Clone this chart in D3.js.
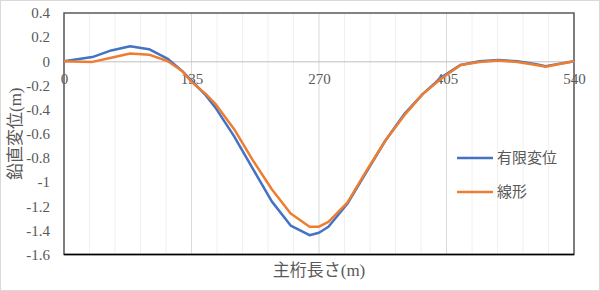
<!DOCTYPE html>
<html><head><meta charset="utf-8">
<script src="https://cdn.jsdelivr.net/npm/d3@7"></script>
<style>body{margin:0;background:#fff}svg{display:block}</style>
</head><body>
<svg id="c" width="600" height="291"></svg>
<script>
const xPos = [0,30,50,70,90,110,125,135,150,160,180,200,220,240,260,270,280,300,320,340,360,380,400,420,440,460,480,500,510,540];
const finiteDisp = [0,0.035,0.09,0.125,0.10,0.02,-0.08,-0.16,-0.28,-0.38,-0.62,-0.89,-1.16,-1.36,-1.44,-1.42,-1.37,-1.18,-0.92,-0.66,-0.44,-0.27,-0.13,-0.03,0.0,0.01,0.0,-0.025,-0.04,0];
const linearDisp = [0,-0.005,0.03,0.065,0.055,0.0,-0.08,-0.17,-0.27,-0.35,-0.56,-0.82,-1.06,-1.26,-1.37,-1.37,-1.33,-1.17,-0.91,-0.66,-0.45,-0.27,-0.14,-0.03,-0.005,0.006,-0.005,-0.03,-0.045,0];
const seriesNames = ["有限変位","線形"];
const seriesColors = ["#4472C4","#ED7D31"];
const xTicks = [0,135,270,405,540];
const yTicks = [0.4,0.2,0,-0.2,-0.4,-0.6,-0.8,-1,-1.2,-1.4,-1.6];
const xMinor = d3.range(0,541,27);
const xTitle = "主桁長さ(m)";
const yTitle = "鉛直変位(m)";

const svg = d3.select("#c");
const L=64,R=574,T=13,B=254.5;
const x = d3.scaleLinear().domain([0,540]).range([L,R]);
const y = d3.scaleLinear().domain([-1.6,0.4]).range([B,T]);

svg.append("rect").attr("x",0.5).attr("y",0.5).attr("width",599).attr("height",290)
  .attr("fill","#fff").attr("stroke","#d9d9d9");

// vertical gridlines
svg.append("g").selectAll("line").data(xMinor).join("line")
  .attr("x1",d=>x(d)).attr("x2",d=>x(d)).attr("y1",T).attr("y2",B)
  .attr("stroke",d=>d%135===0?"#d9d9d9":"#f0f0f0").attr("stroke-width",1);

// plot frame
svg.append("rect").attr("x",L).attr("y",T).attr("width",R-L).attr("height",B-T)
  .attr("fill","none").attr("stroke","#595959").attr("stroke-width",1.5);
svg.append("line").attr("x1",L).attr("x2",R).attr("y1",B).attr("y2",B)
  .attr("stroke","#000").attr("stroke-width",1.5);

// y axis labels
const yAxis = d3.axisLeft(y).tickValues(yTicks).tickSize(0).tickPadding(14).tickFormat(d=>String(d));
const gy = svg.append("g").attr("transform",`translate(${L},0)`).call(yAxis);
gy.select(".domain").remove();
gy.selectAll("text").attr("font-family","'Liberation Serif',serif").attr("font-size",15).attr("fill","#595959");

// x axis at zero
const xAxis = d3.axisBottom(x).tickValues(xTicks).tickSize(0).tickPadding(12).tickFormat(d=>String(d));
const gx = svg.append("g").attr("transform",`translate(0,${y(0)})`).call(xAxis);
gx.select(".domain").attr("stroke","#bfbfbf").attr("stroke-width",1);
gx.selectAll("text").attr("font-family","'Liberation Serif',serif").attr("font-size",15).attr("fill","#595959");

// lines
const line = d3.line().x((d,i)=>x(xPos[i])).y(d=>y(d));
[finiteDisp,linearDisp].forEach((s,i)=>{
  svg.append("path").attr("d",line(s)).attr("fill","none")
    .attr("stroke",seriesColors[i]).attr("stroke-width",2.5).attr("stroke-linejoin","round");
});

// legend
const lg = svg.append("g");
seriesNames.forEach((n,i)=>{
  const yy = 158 + i*34;
  lg.append("line").attr("x1",457).attr("x2",493).attr("y1",yy).attr("y2",yy)
    .attr("stroke",seriesColors[i]).attr("stroke-width",2.5);
  lg.append("text").attr("x",497).attr("y",yy).attr("dy","0.36em")
    .attr("font-family","'Noto Sans CJK JP',sans-serif").attr("font-size",15).attr("fill","#595959").text(n);
});

// titles
svg.append("text").attr("x",(L+R)/2).attr("y",270).attr("dy","0.36em").attr("text-anchor","middle")
  .attr("font-family","'Liberation Serif','Noto Sans CJK JP',serif").attr("font-size",17).attr("fill","#595959").text(xTitle);
svg.append("text").attr("transform",`translate(15,${(T+B)/2}) rotate(-90)`).attr("dy","0.36em").attr("text-anchor","middle")
  .attr("font-family","'Liberation Serif','Noto Sans CJK JP',serif").attr("font-size",17).attr("fill","#595959").text(yTitle);
</script>
</body></html>
